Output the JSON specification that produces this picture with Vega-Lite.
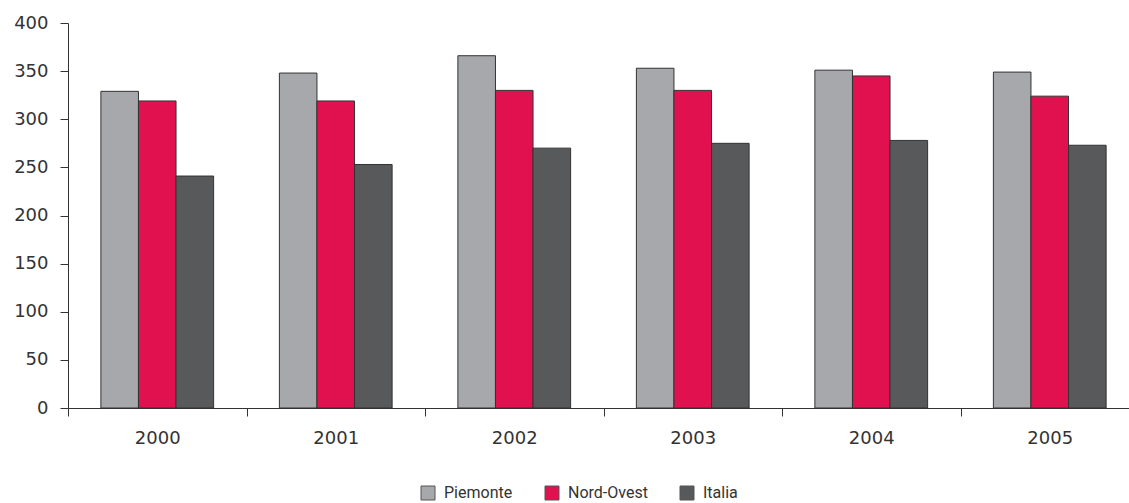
{
  "$schema": "https://vega.github.io/schema/vega-lite/v6.json",
  "autosize": "none",
  "padding": {"left": 68, "top": 23, "right": 0, "bottom": 95},
  "width": 1071,
  "height": 385,
  "background": "white",
  "data": {"values": [
    {"anno": "2000", "area": "Piemonte", "valore": 329},
    {"anno": "2000", "area": "Nord-Ovest", "valore": 319},
    {"anno": "2000", "area": "Italia", "valore": 241},
    {"anno": "2001", "area": "Piemonte", "valore": 348},
    {"anno": "2001", "area": "Nord-Ovest", "valore": 319},
    {"anno": "2001", "area": "Italia", "valore": 253},
    {"anno": "2002", "area": "Piemonte", "valore": 366},
    {"anno": "2002", "area": "Nord-Ovest", "valore": 330},
    {"anno": "2002", "area": "Italia", "valore": 270},
    {"anno": "2003", "area": "Piemonte", "valore": 353},
    {"anno": "2003", "area": "Nord-Ovest", "valore": 330},
    {"anno": "2003", "area": "Italia", "valore": 275},
    {"anno": "2004", "area": "Piemonte", "valore": 351},
    {"anno": "2004", "area": "Nord-Ovest", "valore": 345},
    {"anno": "2004", "area": "Italia", "valore": 278},
    {"anno": "2005", "area": "Piemonte", "valore": 349},
    {"anno": "2005", "area": "Nord-Ovest", "valore": 324},
    {"anno": "2005", "area": "Italia", "valore": 273}
  ]},
  "mark": {"type": "bar", "stroke": "#333333", "strokeWidth": 1},
  "encoding": {
    "x": {
      "field": "anno", "type": "nominal",
      "scale": {"paddingInner": 0, "paddingOuter": 0},
      "axis": {
        "title": null, "labelAngle": 0, "domainColor": "#333333", "tickColor": "#333333",
        "tickBand": "extent", "tickSize": 8, "labelPadding": 13,
        "labelFont": "DejaVu Sans", "labelFontSize": 18, "labelColor": "#333333", "grid": false
      }
    },
    "xOffset": {
      "field": "area", "type": "nominal",
      "sort": ["Piemonte", "Nord-Ovest", "Italia"],
      "scale": {"paddingInner": 0, "paddingOuter": 0.875}
    },
    "y": {
      "field": "valore", "type": "quantitative",
      "scale": {"domain": [0, 400]},
      "axis": {
        "title": null, "values": [0, 50, 100, 150, 200, 250, 300, 350, 400],
        "grid": false, "domainColor": "#333333", "tickColor": "#333333", "tickSize": 8,
        "labelPadding": 12, "labelFont": "DejaVu Sans", "labelFontSize": 18, "labelColor": "#333333"
      }
    },
    "color": {
      "field": "area", "type": "nominal",
      "sort": ["Piemonte", "Nord-Ovest", "Italia"],
      "scale": {"domain": ["Piemonte", "Nord-Ovest", "Italia"], "range": ["#a7a8ac", "#e1114f", "#58595b"]},
      "legend": {
        "title": null, "orient": "none", "direction": "horizontal",
        "legendX": 352, "legendY": 462,
        "symbolType": "square", "symbolSize": 196, "symbolStrokeColor": "#555555", "symbolStrokeWidth": 1,
        "symbolOpacity": 1, "labelFont": "Roboto", "labelFontSize": 16, "labelColor": "#333333",
        "columnPadding": 30, "labelOffset": 8
      }
    }
  },
  "config": {"view": {"stroke": null}}
}
